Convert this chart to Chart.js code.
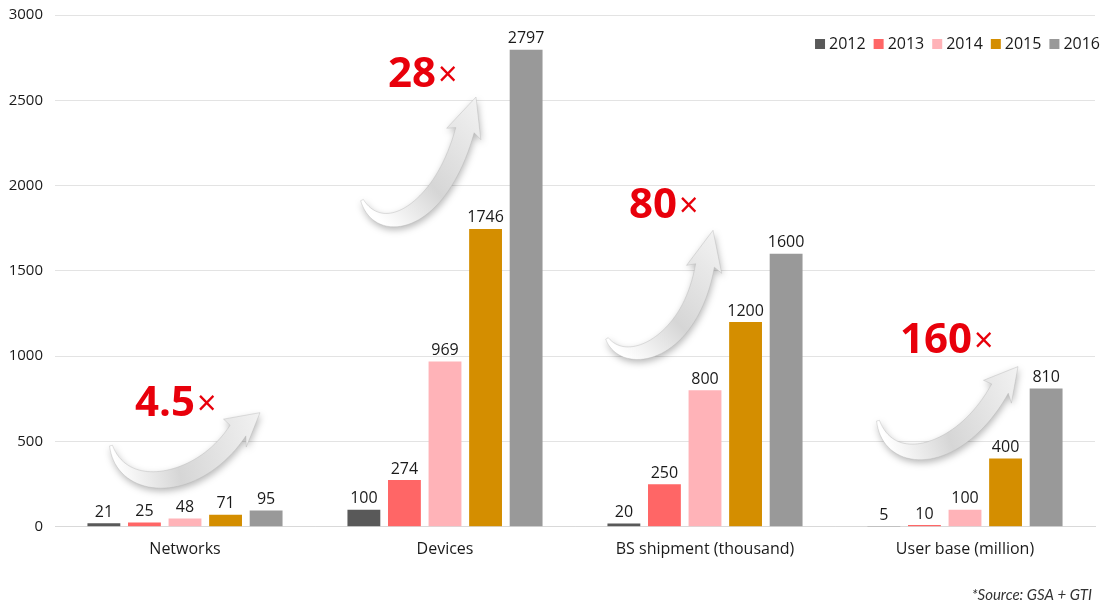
<!DOCTYPE html>
<html>
<head>
<meta charset="utf-8">
<script src="https://cdn.jsdelivr.net/npm/chart.js@4"></script>
<style>
  html, body { margin: 0; padding: 0; background: #fff; }
  #wrap { width: 1102px; height: 605px; position: relative; }
</style>
</head>
<body>
<div id="wrap"><canvas id="chart"></canvas></div>
<script>
const categories = ['Networks', 'Devices', 'BS shipment (thousand)', 'User base (million)'];
const years = ['2012', '2013', '2014', '2015', '2016'];
const values2012 = [21, 100, 20, 5];
const values2013 = [25, 274, 250, 10];
const values2014 = [48, 969, 800, 100];
const values2015 = [71, 1746, 1200, 400];
const values2016 = [95, 2797, 1600, 810];
const growth = ['4.5', '28', '80', '160'];
const yTicks = [0, 500, 1000, 1500, 2000, 2500, 3000];

const colors = ['#595959', '#FF6666', '#FFB3B8', '#D48E00', '#999999'];
const FONT = '"Open Sans", "Noto Sans", sans-serif';

// arrow curves: [dx from category centre, value] for tail, two controls, shaft end, tip
const arrows = [
  [[-74, 476], [-62, 182], [13, 211], [53, 564], [75, 669]],
  [[-83, 1915], [-65, 1679], [-5, 1796], [20, 2325], [31, 2519]],
  [[-98, 1104], [-80, 916], [-15, 1033], [0, 1532], [8, 1738]],
  [[-87, 622], [-75, 329], [-5, 387], [35, 810], [53, 939]]
];
// growth text: left dx, baseline value
const growthPos = [[-50, 652], [-57, 2577], [-76, 1808], [-65, 1016]];

const seriesValues = [values2012, values2013, values2014, values2015, values2016];

function bez(p0, p1, p2, p3, t) {
  const u = 1 - t;
  return [
    u*u*u*p0[0] + 3*u*u*t*p1[0] + 3*u*t*t*p2[0] + t*t*t*p3[0],
    u*u*u*p0[1] + 3*u*u*t*p1[1] + 3*u*t*t*p2[1] + t*t*t*p3[1]
  ];
}

function drawArrow(ctx, pts) {
  const [p0, p1, p2, p3, tip] = pts;
  const n = 40;
  const left = [], right = [];
  for (let i = 0; i <= n; i++) {
    const t = i / n;
    const p = bez(p0, p1, p2, p3, t);
    const q = bez(p0, p1, p2, p3, Math.min(1, t + 0.01));
    const r = bez(p0, p1, p2, p3, Math.max(0, t - 0.01));
    let dx = q[0] - r[0], dy = q[1] - r[1];
    const len = Math.hypot(dx, dy) || 1;
    dx /= len; dy /= len;
    const w = 1.5 + 8 * Math.sin(Math.min(1, t * 1.4) * Math.PI / 2);
    left.push([p[0] - dy * w, p[1] + dx * w]);
    right.push([p[0] + dy * w, p[1] - dx * w]);
  }
  // head direction from shaft end to tip
  let hx = tip[0] - p3[0], hy = tip[1] - p3[1];
  const hl = Math.hypot(hx, hy);
  hx /= hl; hy /= hl;
  const hw = 18;
  const bx = p3[0] - hx * 4, by = p3[1] - hy * 4;

  ctx.save();
  ctx.beginPath();
  ctx.moveTo(left[0][0], left[0][1]);
  left.forEach(p => ctx.lineTo(p[0], p[1]));
  ctx.lineTo(bx - hy * hw, by + hx * hw);
  ctx.lineTo(tip[0], tip[1]);
  ctx.lineTo(bx + hy * hw, by - hx * hw);
  for (let i = right.length - 1; i >= 0; i--) ctx.lineTo(right[i][0], right[i][1]);
  ctx.closePath();
  const g = ctx.createLinearGradient(p0[0], p0[1], tip[0], tip[1]);
  g.addColorStop(0, '#ffffff');
  g.addColorStop(0.4, '#d6d6d6');
  g.addColorStop(1, '#f2f2f2');
  ctx.shadowColor = 'rgba(0,0,0,0.28)';
  ctx.shadowBlur = 7;
  ctx.shadowOffsetX = 1;
  ctx.shadowOffsetY = 3;
  ctx.fillStyle = g;
  ctx.fill();
  ctx.shadowColor = 'transparent';
  ctx.strokeStyle = 'rgba(180,180,180,0.5)';
  ctx.lineWidth = 0.8;
  ctx.stroke();
  ctx.restore();
}

const decorations = {
  id: 'decorations',
  afterDatasetsDraw(chart) {
    const ctx = chart.ctx;
    const xs = chart.scales.x, ys = chart.scales.y;

    // value labels above bars
    ctx.save();
    ctx.font = '16px ' + FONT;
    ctx.fillStyle = '#1a1a1a';
    ctx.textAlign = 'center';
    ctx.textBaseline = 'bottom';
    chart.data.datasets.forEach((ds, di) => {
      chart.getDatasetMeta(di).data.forEach((bar, i) => {
        ctx.fillText(String(ds.data[i]), bar.x, bar.y - 3);
      });
    });
    ctx.restore();

    // growth arrows and multipliers
    categories.forEach((c, i) => {
      const cx = xs.getPixelForValue(i);
      const pts = arrows[i].map(p => [cx + p[0], ys.getPixelForValue(p[1])]);
      drawArrow(ctx, pts);

      ctx.save();
      ctx.fillStyle = '#E8000B';
      ctx.textBaseline = 'alphabetic';
      ctx.textAlign = 'left';
      const x0 = cx + growthPos[i][0];
      const y0 = ys.getPixelForValue(growthPos[i][1]);
      ctx.font = 'bold 42px ' + FONT;
      ctx.fillText(growth[i], x0, y0);
      const w = ctx.measureText(growth[i]).width;
      ctx.font = '34px ' + FONT;
      ctx.fillText('\u00d7', x0 + w + 2, y0 - 1);
      ctx.restore();
    });

    // legend, top right
    ctx.save();
    ctx.font = '16px ' + FONT;
    ctx.textBaseline = 'middle';
    ctx.textAlign = 'left';
    let x = chart.width - 2;
    for (let i = years.length - 1; i >= 0; i--) {
      const tw = ctx.measureText(years[i]).width;
      x -= tw;
      ctx.fillStyle = '#1a1a1a';
      ctx.fillText(years[i], x, 44);
      x -= 14;
      ctx.fillStyle = colors[i];
      ctx.fillRect(x, 39, 10, 10);
      x -= 8;
    }
    ctx.restore();

    // source note
    ctx.save();
    ctx.font = 'italic 15px Lato, "DejaVu Sans", sans-serif';
    ctx.fillStyle = '#333';
    ctx.textAlign = 'right';
    ctx.textBaseline = 'alphabetic';
    ctx.fillText('*Source: GSA + GTI', chart.width - 10, 600);
    ctx.restore();
  }
};

new Chart(document.getElementById('chart'), {
  type: 'bar',
  data: {
    labels: categories,
    datasets: years.map((y, i) => ({
      label: y,
      data: seriesValues[i],
      backgroundColor: colors[i],
      categoryPercentage: 0.78,
      barPercentage: 0.81
    }))
  },
  options: {
    responsive: true,
    maintainAspectRatio: false,
    animation: false,
    layout: { padding: { top: 15, right: 7, bottom: 41, left: 0 } },
    plugins: {
      legend: { display: false },
      tooltip: { enabled: false }
    },
    scales: {
      x: {
        grid: { display: false },
        border: { color: '#d9d9d9' },
        ticks: { color: '#1a1a1a', font: { family: FONT, size: 16 }, padding: 5 }
      },
      y: {
        min: 0,
        max: 3000,
        afterBuildTicks: axis => { axis.ticks = yTicks.map(v => ({ value: v })); },
        afterFit: axis => {
          axis.width = 55;
          axis.paddingTop = 0;
          axis.paddingBottom = 0;
        },
        grid: { color: '#e3e3e3', drawTicks: false },
        border: { display: false },
        ticks: {
          color: '#1a1a1a',
          font: { family: FONT, size: 15 },
          padding: 12,
          callback: v => String(v)
        }
      }
    }
  },
  plugins: [decorations]
});
</script>
</body>
</html>
